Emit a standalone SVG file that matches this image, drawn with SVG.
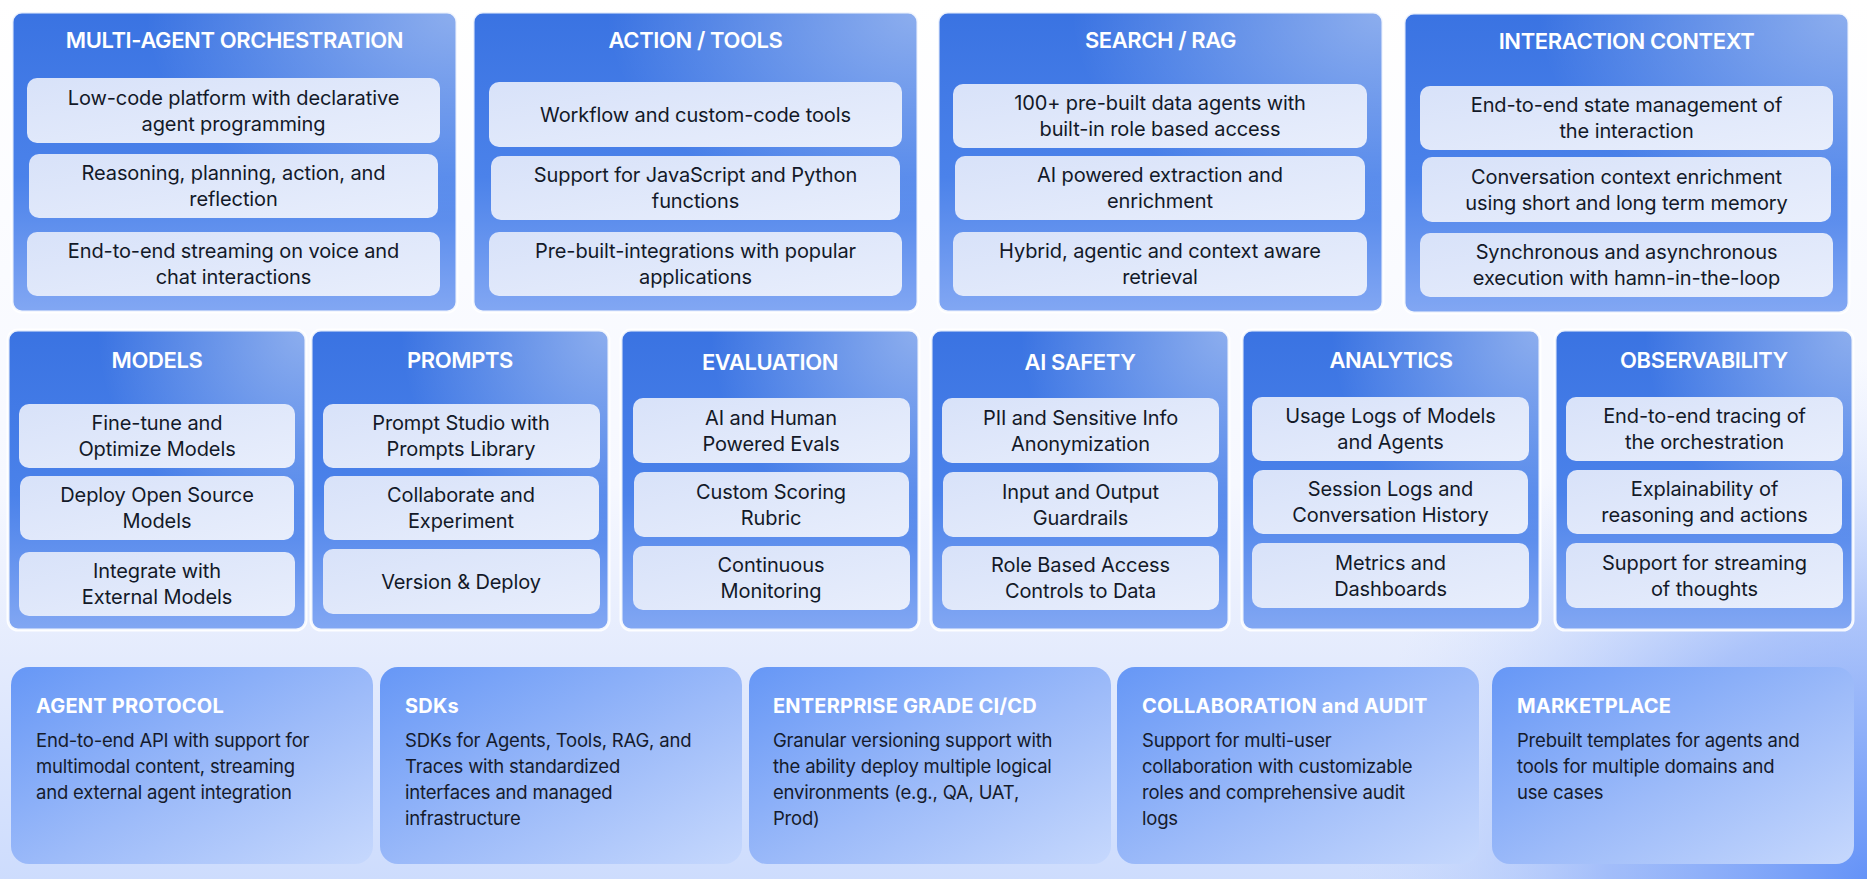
<svg xmlns="http://www.w3.org/2000/svg" width="1867" height="879" viewBox="0 0 1867 879">
<defs>
<linearGradient id="bg" x1="0" y1="0" x2="0" y2="1">
<stop offset="0" stop-color="#ffffff"/>
<stop offset="0.55" stop-color="#f6f8ff"/>
<stop offset="0.75" stop-color="#e4ebfd"/>
<stop offset="1" stop-color="#cddcfd"/>
</linearGradient>
<radialGradient id="bgGlow" cx="1867" cy="879" r="520" gradientUnits="userSpaceOnUse">
<stop offset="0" stop-color="#5f8ff7" stop-opacity="0.95"/>
<stop offset="0.5" stop-color="#86a9f8" stop-opacity="0.6"/>
<stop offset="1" stop-color="#c9d9fc" stop-opacity="0"/>
</radialGradient>
<linearGradient id="panel" x1="0" y1="0" x2="0" y2="1">
<stop offset="0" stop-color="#3a73e2"/>
<stop offset="0.55" stop-color="#4b82ea"/>
<stop offset="1" stop-color="#82a7f3"/>
</linearGradient>
<radialGradient id="panelGlow" cx="1" cy="0" r="0.7">
<stop offset="0" stop-color="#ffffff" stop-opacity="0.42"/>
<stop offset="1" stop-color="#ffffff" stop-opacity="0"/>
</radialGradient>
<linearGradient id="box" x1="0" y1="0" x2="1" y2="1">
<stop offset="0" stop-color="#d8e2f9"/>
<stop offset="1" stop-color="#e8eefc"/>
</linearGradient>
<linearGradient id="card" x1="0" y1="0" x2="1" y2="1">
<stop offset="0" stop-color="#6697f6"/>
<stop offset="0.55" stop-color="#9dbbf9"/>
<stop offset="1" stop-color="#c6d8fd"/>
</linearGradient>
<style>
.panel{fill:url(#panel);stroke:#ffffff;stroke-width:3;stroke-opacity:0.9}
.glow{fill:url(#panelGlow)}
.box{fill:url(#box)}
.hd{font-family:Inter,"Liberation Sans",sans-serif;font-weight:600;font-size:22px;fill:#ffffff;text-anchor:middle;letter-spacing:-0.4px}
.tx{font-family:Inter,"Liberation Sans",sans-serif;font-weight:400;font-size:20px;fill:#131928;text-anchor:middle;letter-spacing:-0.1px}
.card{fill:url(#card)}
.ct{font-family:Inter,"Liberation Sans",sans-serif;font-weight:700;font-size:20px;fill:#ffffff;letter-spacing:0.2px}
.cb{font-family:Inter,"Liberation Sans",sans-serif;font-weight:400;font-size:18.5px;fill:#151b2c;letter-spacing:-0.2px}
</style>
</defs>
<rect width="1867" height="879" fill="url(#bg)"/>
<rect width="1867" height="879" fill="url(#bgGlow)"/>

<!-- Top row -->
<g id="multi-agent-orchestration">
<rect class="panel" x="12" y="12" width="445" height="300" rx="10"/>
<rect class="glow" x="12" y="12" width="445" height="300" rx="10"/>
<text class="hd" x="234.5" y="48">MULTI-AGENT ORCHESTRATION</text>
<rect class="box" x="27" y="78" width="413" height="65" rx="10"/>
<text class="tx" x="233.5" y="105">Low-code platform with declarative</text>
<text class="tx" x="233.5" y="131">agent programming</text>
<rect class="box" x="29" y="154" width="409" height="64" rx="10"/>
<text class="tx" x="233.5" y="180">Reasoning, planning, action, and</text>
<text class="tx" x="233.5" y="206">reflection</text>
<rect class="box" x="27" y="232" width="413" height="64" rx="10"/>
<text class="tx" x="233.5" y="258">End-to-end streaming on voice and</text>
<text class="tx" x="233.5" y="284">chat interactions</text>
</g>

<g id="action-tools">
<rect class="panel" x="473" y="12" width="445" height="300" rx="10"/>
<rect class="glow" x="473" y="12" width="445" height="300" rx="10"/>
<text class="hd" x="695.5" y="48">ACTION / TOOLS</text>
<rect class="box" x="489" y="82" width="413" height="65" rx="10"/>
<text class="tx" x="695.5" y="122">Workflow and custom-code tools</text>
<rect class="box" x="491" y="156" width="409" height="64" rx="10"/>
<text class="tx" x="695.5" y="182">Support for JavaScript and Python</text>
<text class="tx" x="695.5" y="208">functions</text>
<rect class="box" x="489" y="232" width="413" height="64" rx="10"/>
<text class="tx" x="695.5" y="258">Pre-built-integrations with popular</text>
<text class="tx" x="695.5" y="284">applications</text>
</g>

<g id="search-rag">
<rect class="panel" x="938" y="12" width="445" height="300" rx="10"/>
<rect class="glow" x="938" y="12" width="445" height="300" rx="10"/>
<text class="hd" x="1160.5" y="48">SEARCH / RAG</text>
<rect class="box" x="953" y="84" width="414" height="64" rx="10"/>
<text class="tx" x="1160" y="110">100+ pre-built data agents with</text>
<text class="tx" x="1160" y="136">built-in role based access</text>
<rect class="box" x="955" y="156" width="410" height="64" rx="10"/>
<text class="tx" x="1160" y="182">AI powered extraction and</text>
<text class="tx" x="1160" y="208">enrichment</text>
<rect class="box" x="953" y="232" width="414" height="64" rx="10"/>
<text class="tx" x="1160" y="258">Hybrid, agentic and context aware</text>
<text class="tx" x="1160" y="284">retrieval</text>
</g>

<g id="interaction-context">
<rect class="panel" x="1404" y="13" width="445" height="300" rx="10"/>
<rect class="glow" x="1404" y="13" width="445" height="300" rx="10"/>
<text class="hd" x="1626.5" y="49">INTERACTION CONTEXT</text>
<rect class="box" x="1420" y="86" width="413" height="64" rx="10"/>
<text class="tx" x="1626.5" y="112">End-to-end state management of</text>
<text class="tx" x="1626.5" y="138">the interaction</text>
<rect class="box" x="1422" y="157" width="409" height="65" rx="10"/>
<text class="tx" x="1626.5" y="184">Conversation context enrichment</text>
<text class="tx" x="1626.5" y="210">using short and long term memory</text>
<rect class="box" x="1420" y="233" width="413" height="64" rx="10"/>
<text class="tx" x="1626.5" y="259">Synchronous and asynchronous</text>
<text class="tx" x="1626.5" y="285">execution with hamn-in-the-loop</text>
</g>

<!-- Middle row -->
<g id="models">
<rect class="panel" x="8" y="330" width="298" height="300" rx="10"/>
<rect class="glow" x="8" y="330" width="298" height="300" rx="10"/>
<text class="hd" x="157" y="368">MODELS</text>
<rect class="box" x="19" y="404" width="276" height="64" rx="10"/>
<text class="tx" x="157" y="430">Fine-tune and</text>
<text class="tx" x="157" y="456">Optimize Models</text>
<rect class="box" x="20" y="476" width="274" height="64" rx="10"/>
<text class="tx" x="157" y="502">Deploy Open Source</text>
<text class="tx" x="157" y="528">Models</text>
<rect class="box" x="19" y="552" width="276" height="64" rx="10"/>
<text class="tx" x="157" y="578">Integrate with</text>
<text class="tx" x="157" y="604">External Models</text>
</g>

<g id="prompts">
<rect class="panel" x="311" y="330" width="298" height="300" rx="10"/>
<rect class="glow" x="311" y="330" width="298" height="300" rx="10"/>
<text class="hd" x="460" y="368">PROMPTS</text>
<rect class="box" x="323" y="404" width="277" height="64" rx="10"/>
<text class="tx" x="461" y="430">Prompt Studio with</text>
<text class="tx" x="461" y="456">Prompts Library</text>
<rect class="box" x="324" y="476" width="275" height="64" rx="10"/>
<text class="tx" x="461" y="502">Collaborate and</text>
<text class="tx" x="461" y="528">Experiment</text>
<rect class="box" x="323" y="549" width="277" height="65" rx="10"/>
<text class="tx" x="461" y="588.5">Version &amp; Deploy</text>
</g>

<g id="evaluation">
<rect class="panel" x="621" y="330" width="298" height="300" rx="10"/>
<rect class="glow" x="621" y="330" width="298" height="300" rx="10"/>
<text class="hd" x="770" y="370">EVALUATION</text>
<rect class="box" x="633" y="398" width="277" height="65" rx="10"/>
<text class="tx" x="771" y="424.5">AI and Human</text>
<text class="tx" x="771" y="450.5">Powered Evals</text>
<rect class="box" x="634" y="472" width="275" height="65" rx="10"/>
<text class="tx" x="771" y="498.5">Custom Scoring</text>
<text class="tx" x="771" y="524.5">Rubric</text>
<rect class="box" x="633" y="546" width="277" height="64" rx="10"/>
<text class="tx" x="771" y="572">Continuous</text>
<text class="tx" x="771" y="598">Monitoring</text>
</g>

<g id="ai-safety">
<rect class="panel" x="931" y="330" width="298" height="300" rx="10"/>
<rect class="glow" x="931" y="330" width="298" height="300" rx="10"/>
<text class="hd" x="1080" y="370">AI SAFETY</text>
<rect class="box" x="942" y="398" width="277" height="65" rx="10"/>
<text class="tx" x="1080.5" y="424.5">PII and Sensitive Info</text>
<text class="tx" x="1080.5" y="450.5">Anonymization</text>
<rect class="box" x="943" y="472" width="275" height="65" rx="10"/>
<text class="tx" x="1080.5" y="498.5">Input and Output</text>
<text class="tx" x="1080.5" y="524.5">Guardrails</text>
<rect class="box" x="942" y="546" width="277" height="64" rx="10"/>
<text class="tx" x="1080.5" y="572">Role Based Access</text>
<text class="tx" x="1080.5" y="598">Controls to Data</text>
</g>

<g id="analytics">
<rect class="panel" x="1242" y="330" width="298" height="300" rx="10"/>
<rect class="glow" x="1242" y="330" width="298" height="300" rx="10"/>
<text class="hd" x="1391" y="368">ANALYTICS</text>
<rect class="box" x="1252" y="397" width="277" height="64" rx="10"/>
<text class="tx" x="1390.5" y="423">Usage Logs of Models</text>
<text class="tx" x="1390.5" y="449">and Agents</text>
<rect class="box" x="1253" y="470" width="275" height="64" rx="10"/>
<text class="tx" x="1390.5" y="496">Session Logs and</text>
<text class="tx" x="1390.5" y="522">Conversation History</text>
<rect class="box" x="1252" y="543" width="277" height="65" rx="10"/>
<text class="tx" x="1390.5" y="569.5">Metrics and</text>
<text class="tx" x="1390.5" y="595.5">Dashboards</text>
</g>

<g id="observability">
<rect class="panel" x="1555" y="330" width="298" height="300" rx="10"/>
<rect class="glow" x="1555" y="330" width="298" height="300" rx="10"/>
<text class="hd" x="1704" y="368">OBSERVABILITY</text>
<rect class="box" x="1566" y="397" width="277" height="64" rx="10"/>
<text class="tx" x="1704.5" y="423">End-to-end tracing of</text>
<text class="tx" x="1704.5" y="449">the orchestration</text>
<rect class="box" x="1567" y="470" width="275" height="64" rx="10"/>
<text class="tx" x="1704.5" y="496">Explainability of</text>
<text class="tx" x="1704.5" y="522">reasoning and actions</text>
<rect class="box" x="1566" y="543" width="277" height="65" rx="10"/>
<text class="tx" x="1704.5" y="569.5">Support for streaming</text>
<text class="tx" x="1704.5" y="595.5">of thoughts</text>
</g>

<!-- Bottom row -->
<g id="agent-protocol">
<rect class="card" x="11" y="667" width="362" height="197" rx="18"/>
<text class="ct" x="36" y="713">AGENT PROTOCOL</text>
<text class="cb" x="36" y="747">End-to-end API with support for</text>
<text class="cb" x="36" y="773">multimodal content, streaming</text>
<text class="cb" x="36" y="799">and external agent integration</text>
</g>

<g id="sdks">
<rect class="card" x="380" y="667" width="362" height="197" rx="18"/>
<text class="ct" x="405" y="713">SDKs</text>
<text class="cb" x="405" y="747">SDKs for Agents, Tools, RAG, and</text>
<text class="cb" x="405" y="773">Traces with standardized</text>
<text class="cb" x="405" y="799">interfaces and managed</text>
<text class="cb" x="405" y="825">infrastructure</text>
</g>

<g id="enterprise-cicd">
<rect class="card" x="749" y="667" width="362" height="197" rx="18"/>
<text class="ct" x="773" y="713">ENTERPRISE GRADE CI/CD</text>
<text class="cb" x="773" y="747">Granular versioning support with</text>
<text class="cb" x="773" y="773">the ability deploy multiple logical</text>
<text class="cb" x="773" y="799">environments (e.g., QA, UAT,</text>
<text class="cb" x="773" y="825">Prod)</text>
</g>

<g id="collaboration-audit">
<rect class="card" x="1117" y="667" width="362" height="197" rx="18"/>
<text class="ct" x="1142" y="713">COLLABORATION and AUDIT</text>
<text class="cb" x="1142" y="747">Support for multi-user</text>
<text class="cb" x="1142" y="773">collaboration with customizable</text>
<text class="cb" x="1142" y="799">roles and comprehensive audit</text>
<text class="cb" x="1142" y="825">logs</text>
</g>

<g id="marketplace">
<rect class="card" x="1492" y="667" width="362" height="197" rx="18"/>
<text class="ct" x="1517" y="713">MARKETPLACE</text>
<text class="cb" x="1517" y="747">Prebuilt templates for agents and</text>
<text class="cb" x="1517" y="773">tools for multiple domains and</text>
<text class="cb" x="1517" y="799">use cases</text>
</g>
</svg>
